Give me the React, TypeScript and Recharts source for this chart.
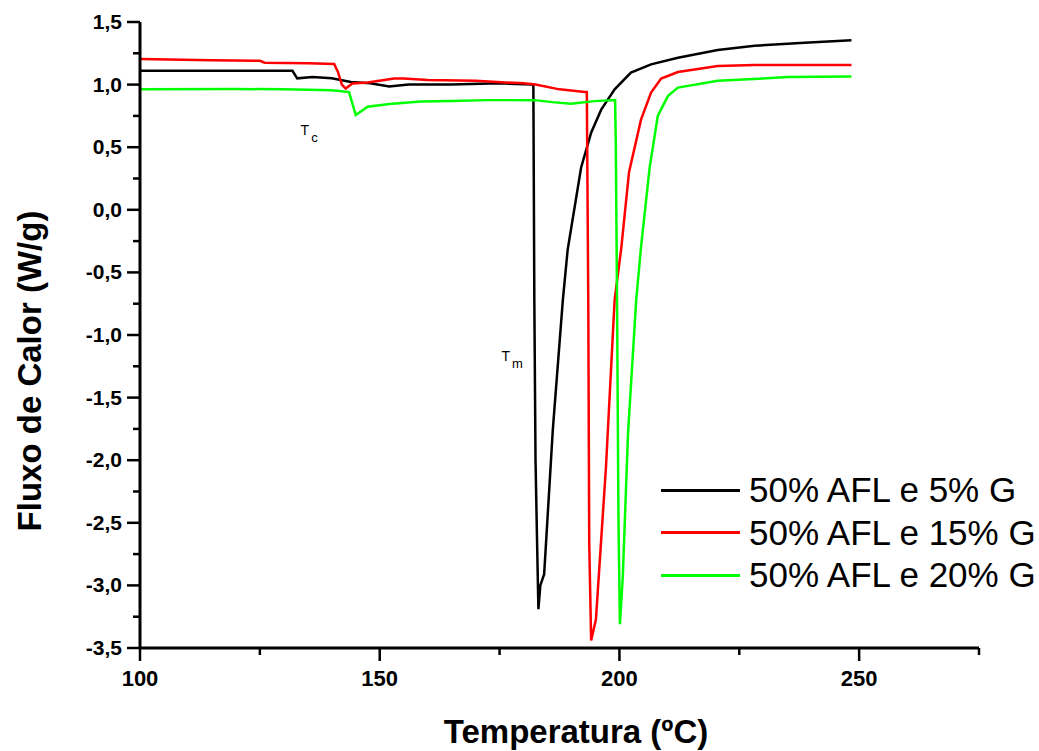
import { Label, Legend, Line, LineChart, ReferenceDot, XAxis, YAxis } from "recharts";

const FONT = '"Liberation Sans", Arial, sans-serif';

// temperatura (ºC), fluxo de calor (W/g)
const temps5 = [
  100, 110, 120, 131.8, 132.8, 136, 140, 144, 148, 152, 156, 165, 175, 181.9, 182.05, 182.25,
  182.5, 182.8, 183.1, 183.5, 184.3, 186.1, 188.2, 189.2, 192.0, 194.1, 196.2, 199.0, 202.4,
  206.6, 212.2, 220.5, 228.2, 238.6, 248.4
];
const flux5 = [
  1.11, 1.11, 1.11, 1.11, 1.05, 1.06, 1.05, 1.02, 1.01, 0.985, 1.0, 1.0, 1.01, 1.0, 0.99, -0.72,
  -2.0, -2.61, -3.19, -3.0, -2.91, -1.76, -0.72, -0.32, 0.336, 0.616, 0.8, 0.962, 1.096, 1.162,
  1.215, 1.276, 1.31, 1.335, 1.355
];

const temps15 = [
  100, 115, 125, 126, 135, 140.5, 141.3, 142.1, 142.9, 144.3, 147.5, 153, 155, 160, 170, 180,
  182.5, 187.5, 192.8, 193.2, 193.5, 193.7, 194.1, 195.1, 197.2, 199.0, 200.4, 202.0, 204.5,
  206.6, 208.7, 212.2, 220.5, 228.2, 248.4
];
const flux15 = [
  1.205, 1.195, 1.19, 1.175, 1.17, 1.165, 1.1, 1.0, 0.968, 1.008, 1.016, 1.048, 1.048, 1.036,
  1.03, 1.01, 1.0, 0.962, 0.94, 0.94, -0.72, -2.66, -3.44, -3.27, -2.05, -0.72, -0.3, 0.3, 0.72,
  0.936, 1.048, 1.1, 1.148, 1.156, 1.156
];

const temps20 = [
  100, 120, 130, 140, 143.6, 145.0, 147.5, 152, 158.6, 165, 172.5, 182.3, 186, 189.9, 194.8,
  199.1, 199.25, 199.5, 199.8, 200.1, 200.7, 201.8, 203.5, 204.5, 206.3, 208.0, 210.1, 212.2,
  220.5, 235.2, 248.4
];
const flux20 = [
  0.962, 0.965, 0.962, 0.955, 0.94, 0.757, 0.824, 0.845, 0.865, 0.87, 0.876, 0.876, 0.86, 0.848,
  0.868, 0.876, 0.5, -0.72, -2.47, -3.31, -2.93, -1.78, -0.72, -0.3, 0.336, 0.75, 0.908, 0.976,
  1.03, 1.06, 1.065
];

const seriesNames = ["50% AFL e 5% G", "50% AFL e 15% G", "50% AFL e 20% G"];
const seriesColors = ["#000000", "#ff0000", "#00ff00"];

const xTicks = [100, 125, 150, 175, 200, 225, 250, 275];
const yTicks = [
  1.5, 1.25, 1, 0.75, 0.5, 0.25, 0, -0.25, -0.5, -0.75, -1, -1.25, -1.5, -1.75, -2, -2.25, -2.5,
  -2.75, -3, -3.25, -3.5
];

const toPoints = (t: number[], v: number[]) => t.map((x, i) => ({ t: x, v: v[i] }));
const series = [toPoints(temps5, flux5), toPoints(temps15, flux15), toPoints(temps20, flux20)];

const comma = (n: number) => n.toFixed(1).replace(".", ",");

function YTick({ x, y, payload }: any) {
  const major = Math.abs(payload.value * 2 - Math.round(payload.value * 2)) < 1e-6;
  return (
    <g>
      <line x1={x - (major ? 13 : 7)} x2={x} y1={y} y2={y} stroke="#000" strokeWidth={2.5} />
      {major && (
        <text x={x - 18} y={y} dy={7} textAnchor="end" fontFamily={FONT} fontWeight="bold" fontSize={21} fill="#000">
          {comma(payload.value)}
        </text>
      )}
    </g>
  );
}

function XTick({ x, y, payload }: any) {
  const major = payload.value % 50 === 0;
  return (
    <g>
      <line x1={x} x2={x} y1={y} y2={y + (major ? 13 : 7)} stroke="#000" strokeWidth={2.5} />
      {major && (
        <text x={x} y={y + 38} textAnchor="middle" fontFamily={FONT} fontWeight="bold" fontSize={22} fill="#000">
          {payload.value}
        </text>
      )}
    </g>
  );
}

function SubLabel(main: string, sub: string) {
  return ({ viewBox }: any) => (
    <text x={viewBox.x} y={viewBox.y} fontFamily={FONT} fontSize={14} fill="#000">
      <tspan>{main}</tspan>
      <tspan dx={2} dy={7} fontSize={13}>{sub}</tspan>
    </text>
  );
}

function ChartLegend() {
  return (
    <div style={{ fontFamily: FONT, fontSize: 35, color: "#000" }}>
      {seriesNames.map((name, i) => (
        <div key={name} style={{ display: "flex", alignItems: "center", height: 42.5 }}>
          <span style={{ display: "inline-block", width: 79, height: 3, background: seriesColors[i], marginRight: 9 }} />
          <span style={{ lineHeight: "42px" }}>{name}</span>
        </div>
      ))}
    </div>
  );
}

export default function App() {
  return (
    <div style={{ position: "absolute", left: 0, top: 0, background: "#fff" }}>
      <LineChart width={1039} height={751} margin={{ top: 22, right: 60, bottom: 43, left: 40 }}>
        <XAxis
          type="number"
          dataKey="t"
          domain={[100, 275]}
          ticks={xTicks}
          interval={0}
          height={60}
          tickSize={0}
          tickMargin={0}
          tickLine={false}
          tick={<XTick />}
          axisLine={{ stroke: "#000", strokeWidth: 3 }}
        >
          <Label
            content={() => (
              <text x={576} y={743} textAnchor="middle" fontFamily={FONT} fontWeight="bold" fontSize={33} fill="#000">
                Temperatura (ºC)
              </text>
            )}
          />
        </XAxis>
        <YAxis
          type="number"
          domain={[-3.5, 1.5]}
          ticks={yTicks}
          interval={0}
          width={100}
          tickSize={0}
          tickMargin={0}
          tickLine={false}
          tick={<YTick />}
          axisLine={{ stroke: "#000", strokeWidth: 3 }}
        >
          <Label
            content={() => (
              <text
                x={41}
                y={371}
                transform="rotate(-90 41 371)"
                textAnchor="middle"
                fontFamily={FONT}
                fontWeight="bold"
                fontSize={33}
                fill="#000"
              >
                Fluxo de Calor (W/g)
              </text>
            )}
          />
        </YAxis>
        <Legend
          layout="vertical"
          align="center"
          verticalAlign="middle"
          content={<ChartLegend />}
          wrapperStyle={{ left: 661, top: 469, width: 380 }}
        />
        {series.map((d, i) => (
          <Line
            key={seriesNames[i]}
            data={d}
            dataKey="v"
            name={seriesNames[i]}
            type="linear"
            stroke={seriesColors[i]}
            strokeWidth={2.5}
            dot={false}
            activeDot={false}
            isAnimationActive={false}
          />
        ))}
        <ReferenceDot x={133.5} y={0.6} r={0} stroke="none" fill="none" label={SubLabel("T", "c")} />
        <ReferenceDot x={175.4} y={-1.21} r={0} stroke="none" fill="none" label={SubLabel("T", "m")} />
      </LineChart>
    </div>
  );
}
